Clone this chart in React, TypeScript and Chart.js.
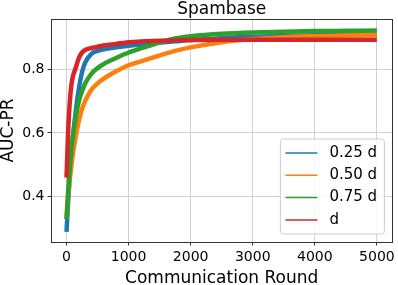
import React, { useEffect, useRef } from 'react';
import { Chart, registerables } from 'chart.js';

Chart.register(...registerables);

const rounds = [0, 25, 50, 75, 100, 150, 200, 250, 300, 400, 500, 600, 800, 1000, 1250, 1500, 1750, 2000, 2500, 3000, 3500, 4000, 4500, 4999];
const auc025 = [0.29, 0.38, 0.46, 0.52, 0.58, 0.67, 0.74, 0.79, 0.82, 0.848, 0.857, 0.862, 0.868, 0.873, 0.878, 0.883, 0.887, 0.891, 0.897, 0.901, 0.904, 0.906, 0.907, 0.908];
const auc050 = [0.33, 0.40, 0.45, 0.49, 0.53, 0.59, 0.64, 0.675, 0.70, 0.735, 0.755, 0.77, 0.793, 0.812, 0.827, 0.843, 0.857, 0.868, 0.884, 0.894, 0.90, 0.903, 0.905, 0.907];
const auc075 = [0.33, 0.41, 0.48, 0.54, 0.585, 0.65, 0.70, 0.73, 0.755, 0.785, 0.803, 0.816, 0.835, 0.852, 0.868, 0.883, 0.896, 0.903, 0.911, 0.915, 0.917, 0.919, 0.92, 0.921];
const aucFull = [0.46, 0.60, 0.69, 0.745, 0.775, 0.805, 0.835, 0.852, 0.86, 0.866, 0.87, 0.874, 0.879, 0.884, 0.887, 0.889, 0.89, 0.891, 0.892, 0.892, 0.892, 0.892, 0.892, 0.892];

const seriesLabels = ['0.25 d', '0.50 d', '0.75 d', 'd'];
const seriesValues = [auc025, auc050, auc075, aucFull];
const seriesColors = ['#1f77b4', '#ff7f0e', '#2ca02c', '#d62728'];
const xTicks = [0, 1000, 2000, 3000, 4000, 5000];
const yTicks = [0.4, 0.6, 0.8];

const FONT = "'DejaVu Sans', sans-serif";

const framePlugin = {
  id: 'frame',
  afterDatasetsDraw(chart: any) {
    const { ctx, chartArea: a } = chart;
    ctx.save();
    ctx.strokeStyle = '#333333';
    ctx.lineWidth = 1;
    ctx.strokeRect(Math.round(a.left) + 0.5, Math.round(a.top) + 0.5, Math.round(a.right - a.left), Math.round(a.bottom - a.top));
    ctx.restore();
  },
};

const boxLegendPlugin = {
  id: 'boxLegend',
  afterDraw(chart: any) {
    const { ctx, chartArea: a } = chart;
    const w = 104;
    const h = 95;
    const x0 = a.right - 8 - w;
    const y0 = a.bottom - 8 - h;
    ctx.save();
    ctx.beginPath();
    const r = 3;
    ctx.moveTo(x0 + r, y0);
    ctx.lineTo(x0 + w - r, y0);
    ctx.arcTo(x0 + w, y0, x0 + w, y0 + r, r);
    ctx.lineTo(x0 + w, y0 + h - r);
    ctx.arcTo(x0 + w, y0 + h, x0 + w - r, y0 + h, r);
    ctx.lineTo(x0 + r, y0 + h);
    ctx.arcTo(x0, y0 + h, x0, y0 + h - r, r);
    ctx.lineTo(x0, y0 + r);
    ctx.arcTo(x0, y0, x0 + r, y0, r);
    ctx.closePath();
    ctx.fillStyle = 'rgba(255,255,255,0.8)';
    ctx.fill();
    ctx.strokeStyle = '#cccccc';
    ctx.lineWidth = 1;
    ctx.stroke();
    ctx.font = `15px ${FONT}`;
    ctx.textBaseline = 'middle';
    ctx.textAlign = 'left';
    chart.data.datasets.forEach((ds: any, i: number) => {
      const cy = y0 + 14 + i * 22.3;
      ctx.strokeStyle = ds.borderColor;
      ctx.lineWidth = 1.5;
      ctx.beginPath();
      ctx.moveTo(x0 + 5, cy);
      ctx.lineTo(x0 + 37, cy);
      ctx.stroke();
      ctx.fillStyle = '#000000';
      ctx.fillText(ds.label, x0 + 49, cy);
    });
    ctx.restore();
  },
};

export default function App() {
  const ref = useRef<HTMLCanvasElement | null>(null);

  useEffect(() => {
    if (!ref.current) return;
    const datasets = seriesLabels.map((label, i) => ({
      label,
      data: rounds.map((r, j) => ({ x: r, y: seriesValues[i][j] })),
      borderColor: seriesColors[i],
      backgroundColor: seriesColors[i],
      borderWidth: 4.5,
      pointRadius: 0,
      cubicInterpolationMode: 'monotone' as const,
      fill: false,
      order: 4 - i,
    }));
    const chart = new Chart(ref.current, {
      type: 'line',
      data: { datasets },
      plugins: [framePlugin, boxLegendPlugin],
      options: {
        animation: false,
        responsive: false,
        maintainAspectRatio: false,
        layout: { padding: { left: 0, right: 3, top: 0, bottom: 0 } },
        plugins: {
          legend: { display: false },
          tooltip: { enabled: false },
          title: {
            display: true,
            text: 'Spambase',
            fullSize: false,
            color: '#000000',
            font: { family: FONT, size: 17, weight: 'normal', lineHeight: 0.85 },
            padding: { top: 2.8, bottom: 1.75 },
          },
        },
        scales: {
          x: {
            type: 'linear',
            min: -250,
            max: 5249,
            afterBuildTicks: (scale: any) => {
              scale.ticks = xTicks.map((v) => ({ value: v }));
            },
            afterFit: (scale: any) => {
              scale.height = 43;
            },
            ticks: {
              color: '#000000',
              font: { family: FONT, size: 14 },
              padding: 3,
              maxRotation: 0,
              autoSkip: false,
              callback: (v: any) => String(v),
            },
            grid: { color: '#d0d0d0', lineWidth: 1, tickColor: '#333333', tickLength: 3.5 },
            border: { display: true, color: '#333333', width: 1 },
            title: {
              display: true,
              text: 'Communication Round',
              color: '#000000',
              font: { family: FONT, size: 17, lineHeight: 0.8 },
              padding: { top: 0, bottom: 0 },
            },
          },
          y: {
            type: 'linear',
            min: 0.258,
            max: 0.957,
            afterBuildTicks: (scale: any) => {
              scale.ticks = yTicks.map((v) => ({ value: v }));
            },
            afterFit: (scale: any) => {
              scale.width = 51;
            },
            ticks: {
              color: '#000000',
              font: { family: FONT, size: 14 },
              padding: 3,
              autoSkip: false,
              callback: (v: any) => Number(v).toFixed(1),
            },
            grid: { color: '#d0d0d0', lineWidth: 1, tickColor: '#333333', tickLength: 3.5 },
            border: { display: true, color: '#333333', width: 1 },
            title: {
              display: true,
              text: 'AUC-PR',
              color: '#000000',
              font: { family: FONT, size: 17, lineHeight: 1.0 },
              padding: { top: 0, bottom: 0 },
            },
          },
        },
      },
    });
    return () => chart.destroy();
  }, []);

  return (
    <div style={{ position: 'absolute', left: 0, top: 0, width: 398, height: 285 }}>
      <canvas ref={ref} width={398} height={285} style={{ width: 398, height: 285, display: 'block' }} />
    </div>
  );
}
